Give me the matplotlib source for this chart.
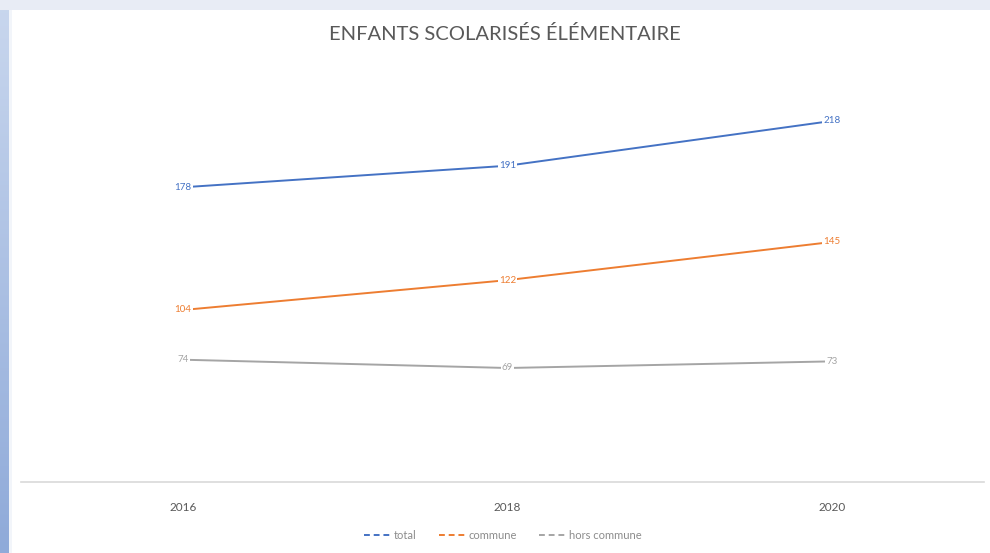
import numpy as np
import matplotlib
matplotlib.use('Agg')
import matplotlib.pyplot as plt
from matplotlib.lines import Line2D

years = ['2016', '2018', '2020']
total = [178, 191, 218]
commune = [104, 122, 145]
hors_commune = [74, 69, 73]

series = [('total', total, '#4472C4'),
          ('commune', commune, '#ED7D31'),
          ('hors commune', hors_commune, '#A5A5A5')]

plt.rcParams['font.family'] = ['Lato', 'DejaVu Sans']

W, H = 990, 553
fig = plt.figure(figsize=(W / 100, H / 100), dpi=100, facecolor='white')

# window frame: light top strip and blue gradient on the left
bg = fig.add_axes([0, 0, 1, 1], zorder=-5)
bg.set_axis_off()
bg.set_xlim(0, W)
bg.set_ylim(H, 0)
bg.add_patch(plt.Rectangle((0, 0), W, 10, color='#E8ECF5', lw=0))
grad = np.linspace(0, 1, 256).reshape(-1, 1)
cmap = matplotlib.colors.LinearSegmentedColormap.from_list('b', ['#C9D7EE', '#8FAAD9'])
bg.imshow(grad, cmap=cmap, extent=(0, 9, H, 0), aspect='auto')
bg.add_patch(plt.Rectangle((9, 10), 3, H, color='#F2F5FA', lw=0))

ax = fig.add_axes([21 / W, 70.6 / H, 973 / W, 414.5 / H])
ax.set_xlim(-0.5, 2.5)
ax.set_ylim(0, 250)
x = np.arange(len(years))

for name, vals, col in series:
    ax.plot(x, vals, color=col, lw=1.4, label=name, solid_capstyle='round')
    for xi, v in zip(x, vals):
        ax.text(xi, v, str(v), ha='center', va='center', fontsize=7, color=col,
                bbox=dict(boxstyle='square,pad=0.1', fc='white', ec='none'))

for s in ['top', 'left', 'right']:
    ax.spines[s].set_visible(False)
ax.spines['bottom'].set_color('#D9D9D9')
ax.spines['bottom'].set_linewidth(1.2)
ax.spines['bottom'].set_bounds(-0.5, 2.47)
ax.set_yticks([])
ax.set_xticks(x)
ax.set_xticklabels(years)
ax.tick_params(axis='x', length=0, pad=14, labelsize=8.5, labelcolor='#595959')

fig.text(0.51, 0.938, 'ENFANTS SCOLARISÉS ÉLÉMENTAIRE', ha='center', va='center',
         fontsize=14.5, color='#595959', fontstretch='condensed')

handles = [Line2D([0], [0], color=c, lw=1.4, ls=(0, (3, 2))) for _, _, c in series]
fig.legend(handles, [n for n, _, _ in series], loc='center', bbox_to_anchor=(0.508, 0.031),
           ncol=3, frameon=False, fontsize=8, labelcolor='#8C8C8C',
           handlelength=2.4, handletextpad=0.3, columnspacing=2.0)

fig.savefig('out.png', dpi=100, facecolor='white')
